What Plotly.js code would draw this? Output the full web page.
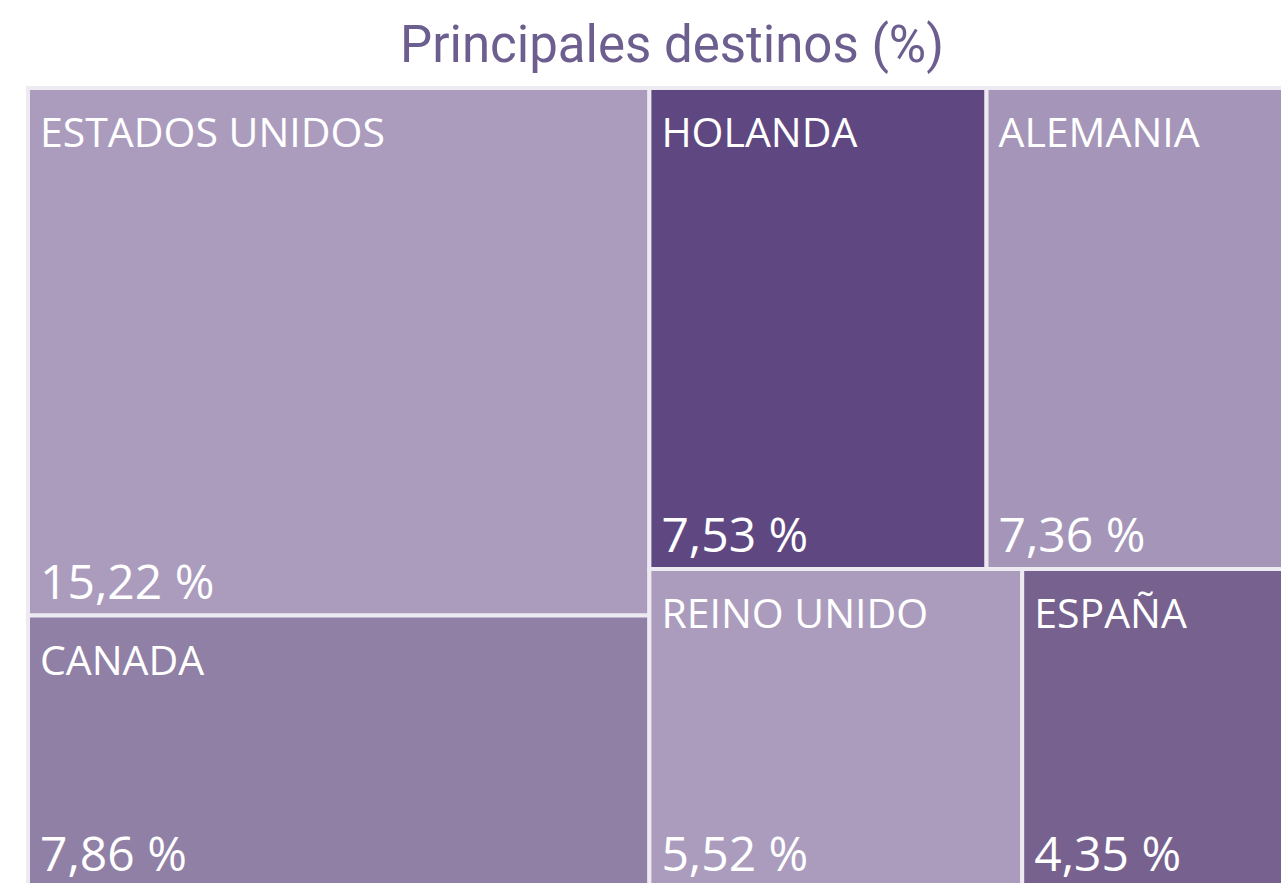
<!DOCTYPE html>
<html>
<head>
<meta charset="utf-8">
<script src="https://cdn.plot.ly/plotly-3.0.1.min.js"></script>
<style>
html, body { margin: 0; padding: 0; overflow: hidden; background: #ffffff; }
#chart { width: 1350px; height: 930px; }
</style>
</head>
<body>
<div id="chart"></div>
<script>
const paises = ["ESTADOS UNIDOS", "CANADA", "HOLANDA", "ALEMANIA", "REINO UNIDO", "ESPAÑA"];
const porcentajes = [15.22, 7.86, 7.53, 7.36, 5.52, 4.35];
const colores = ["#AB9CBE", "#9180A6", "#5F4882", "#A596B9", "#AB9CBE", "#77628F"];
const padres = paises.map(() => "");

const W = 1350, H = 930;
// plot box in pixels (left, right, top, bottom)
const box = { l: 28, r: 1316, t: 88, b: 888 };
function dom(dx, dy) {
  return {
    x: [(box.l + dx) / W, (box.r + dx) / W],
    y: [1 - (box.b + dy) / H, 1 - (box.t + dy) / H]
  };
}

const base = {
  type: "treemap",
  labels: paises,
  parents: padres,
  values: porcentajes,
  sort: true,
  tiling: { packing: "squarify", squarifyratio: 1.618, pad: 0 },
  pathbar: { visible: false },
  hoverinfo: "skip"
};

const traceTiles = Object.assign({}, base, {
  domain: dom(0, 0),
  marker: { colors: colores, line: { width: 4, color: "#EEEAF2" }, pad: { t: 0, l: 0, r: 0, b: 0 } },
  texttemplate: " ",
  textposition: "top left"
});

const traceLabels = Object.assign({}, base, {
  domain: dom(9, 12),
  marker: { colors: paises.map(() => "rgba(0,0,0,0)"), line: { width: 0 }, pad: { t: 0, l: 0, r: 0, b: 0 } },
  texttemplate: "%{label}",
  textposition: "top left",
  insidetextfont: { family: "Open Sans, Liberation Sans, sans-serif", size: 41, color: "#ffffff" }
});

const traceValues = Object.assign({}, base, {
  domain: dom(9, 0),
  marker: { colors: paises.map(() => "rgba(0,0,0,0)"), line: { width: 0 }, pad: { t: 0, l: 0, r: 0, b: 0 } },
  texttemplate: "%{value:.2f} %",
  textposition: "bottom left",
  insidetextfont: { family: "Open Sans, Liberation Sans, sans-serif", size: 48, color: "#ffffff" }
});

const layout = {
  width: W,
  height: H,
  separators: ",.",
  margin: { l: 0, r: 0, t: 0, b: 0 },
  paper_bgcolor: "#ffffff",
  title: {
    text: "Principales destinos (%)",
    x: 672 / W, xref: "container", xanchor: "center",
    y: 1 - 44 / H, yref: "container", yanchor: "middle",
    font: { family: "Roboto, sans-serif", size: 51, color: "#6C5E8E" }
  },
  showlegend: false
};

Plotly.newPlot("chart", [traceTiles, traceLabels, traceValues], layout, { displayModeBar: false, staticPlot: true });
</script>
</body>
</html>
